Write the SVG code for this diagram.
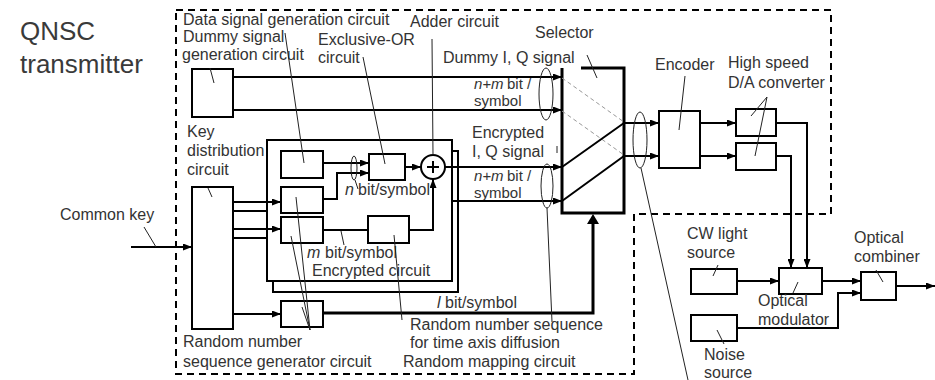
<svg xmlns="http://www.w3.org/2000/svg" width="935" height="380" viewBox="0 0 935 380">
<style>
text{font-family:"Liberation Sans",Arial,sans-serif;font-size:16px;fill:#333}
.t{font-size:26px;fill:#3a3a3a}
.s{font-size:15px}
.b{fill:#fff;stroke:#000;stroke-width:2}
.c{fill:none;stroke:#000;stroke-width:2}
.k{fill:none;stroke:#000;stroke-width:3}
.l{fill:none;stroke:#222;stroke-width:1}
.d{fill:none;stroke:#000;stroke-width:2;stroke-dasharray:7 5}
.g{fill:none;stroke:#999;stroke-width:1;stroke-dasharray:4 3}
.i{font-style:italic}
</style>
<defs>
<marker id="a" markerUnits="userSpaceOnUse" markerWidth="9" markerHeight="7" refX="9" refY="3.5" orient="auto"><path d="M0,0 L9,3.5 L0,7 z" fill="#000"/></marker>
</defs>
<g id="title"><text class="t" x="20" y="40">QNSC</text><text class="t" x="20" y="73">transmitter</text></g>
<path id="boundary" class="d" d="M176,10 H831 V214 H634 V374 H176 Z"/>
<g id="encrypted-circuit">
<rect class="b" x="273" y="151" width="185" height="141"/>
<rect class="b" x="267" y="140" width="185" height="141"/>
<text x="312" y="276">Encrypted circuit</text>
</g>
<g id="dummy-gen"><rect class="b" x="192" y="69" width="41" height="48"/>
<text x="183" y="25">Data signal generation circuit</text><text x="183" y="42">Dummy signal</text><text x="182" y="60">generation circuit</text></g>
<g id="key-dist"><rect class="b" x="192" y="187" width="41" height="142"/>
<text x="187" y="137">Key</text><text x="187" y="156">distribution</text><text x="187" y="175">circuit</text></g>
<g id="data-box"><rect class="b" x="281" y="151" width="42" height="27"/></g>
<g id="rng-b"><rect class="b" x="281" y="187" width="42" height="26"/></g>
<g id="rng-c"><rect class="b" x="281" y="217" width="42" height="26"/></g>
<g id="rng-t"><rect class="b" x="281" y="301" width="42" height="26"/>
<text x="183" y="347">Random number</text><text x="183" y="367">sequence generator circuit</text></g>
<g id="xor"><rect class="b" x="369" y="154" width="36" height="26"/><text x="318" y="45">Exclusive-OR</text><text x="318" y="63">circuit</text></g>
<g id="adder"><circle class="b" cx="433" cy="167" r="12"/><path class="c" d="M427,167 H439 M433,161 V173" stroke-width="1.5"/><text x="410" y="27">Adder circuit</text></g>
<g id="mapping"><rect class="b" x="368" y="216" width="41" height="27"/>
<text x="410" y="330">Random number sequence</text><text x="410" y="348">for time axis diffusion</text><text x="403" y="367">Random mapping circuit</text></g>
<g id="selector">
<path class="k" d="M581,68 H624 V213 H562 V68"/>
<path class="g" d="M562,78 L624,122 M562,111 L624,155"/>
<path class="c" stroke-width="2.5" d="M562,167 L624,123 M562,201 L624,156"/>
<text x="535" y="38">Selector</text>
<text x="443" y="63">Dummy I, Q signal</text>
</g>
<g id="encoder"><rect class="b" x="659" y="111" width="41" height="57"/><text x="655" y="70">Encoder</text></g>
<g id="da1"><rect class="b" x="736" y="109" width="40" height="27"/><text x="728" y="68">High speed</text><text x="728" y="88">D/A converter</text></g>
<g id="da2"><rect class="b" x="736" y="143" width="40" height="27"/></g>
<g id="cw"><rect class="b" x="691" y="269" width="46" height="25"/><text x="687" y="239">CW light</text><text x="687" y="258">source</text></g>
<g id="noise"><rect class="b" x="691" y="315" width="46" height="26"/><text x="704" y="360">Noise</text><text x="704" y="378">source</text></g>
<g id="modulator"><rect class="b" x="779" y="268" width="43" height="26"/><text x="758" y="306">Optical</text><text x="758" y="325">modulator</text></g>
<g id="combiner"><rect class="b" x="861" y="272" width="35" height="28"/><text x="854" y="243">Optical</text><text x="854" y="262">combiner</text></g>
<g id="labels">
<text x="60" y="220">Common key</text>
<text class="s i" x="474" y="89">n</text><text class="s" x="482.5" y="89">+</text><text class="s i" x="491" y="89">m</text><text class="s" x="507" y="89">bit /</text><text class="s" x="474" y="106">symbol</text>
<text x="472" y="138">Encrypted</text><text x="472" y="157">I, Q signal</text>
<text class="s i" x="474" y="181">n</text><text class="s" x="482.5" y="181">+</text><text class="s i" x="491" y="181">m</text><text class="s" x="507" y="181">bit /</text><text class="s" x="474" y="198">symbol</text>
<text class="i" x="345" y="195">n</text><text x="358" y="195">bit/symbol</text>
<text class="i" x="307" y="258">m</text><text x="325" y="258">bit/symbol</text>
<text class="i" x="437" y="308">l</text><text x="445" y="308">bit/symbol</text>
</g>
<g id="connectors">
<g class="c" marker-end="url(#a)">
<path d="M233,77 H562"/><path d="M233,110 H562"/>
<path d="M233,202 H281"/><path d="M233,229 H281"/><path d="M233,314 H281"/>
<path d="M131,247 H192"/>
<path d="M323,163 H369"/><path d="M323,199 H337 V173 H369"/>
<path d="M405,167 H421"/>
<path d="M409,230 H433 V179"/>
<path d="M445,167 H562"/><path d="M452,201 H562"/>
<path d="M624,123 H659"/><path d="M624,156 H659"/>
<path d="M700,123 H736"/><path d="M700,156 H736"/>
<path d="M776,123 H807 V268"/><path d="M776,156 H791 V268"/>
<path d="M737,281 H779"/><path d="M822,281 H861"/>
<path d="M737,328 H838 V293 H861"/>
<path d="M896,286 H935"/>
</g>
<path class="c" d="M233,211 H267 M233,238 H267 M323,230 H368"/>
<path class="k" d="M323,313 H593 V222"/>
<path d="M587,224 L593,214 L599,224 z" fill="#000"/>
<g class="l">
<ellipse cx="546" cy="94" rx="7" ry="26"/>
<ellipse cx="547" cy="186" rx="6" ry="22"/>
<ellipse cx="640" cy="140" rx="7" ry="28"/>
<ellipse cx="354" cy="168" rx="3" ry="12"/>
<path d="M285,33 L304,163 M210,68 L214,83 M363,57 L385,164 M432,39 L433,155 M587,55 L597,78 M685,76 L679,130 M767,97 L751,116 M767,97 L755,156 M208,188 L212,197 M144,227 L156,247 M355,180 L358,189 M341,231 L344,245 M394,235 L402,320 M547,208 L552,322 M641,168 L688,380 M296,197 L310,330 M291,236 L310,330 M302,307 L310,330 M718,265 L713,276 M798,282 L793,293 M717,330 L724,344 M876,270 L883,282 M557,146 L557,153"/>
</g>
</g>
</svg>
